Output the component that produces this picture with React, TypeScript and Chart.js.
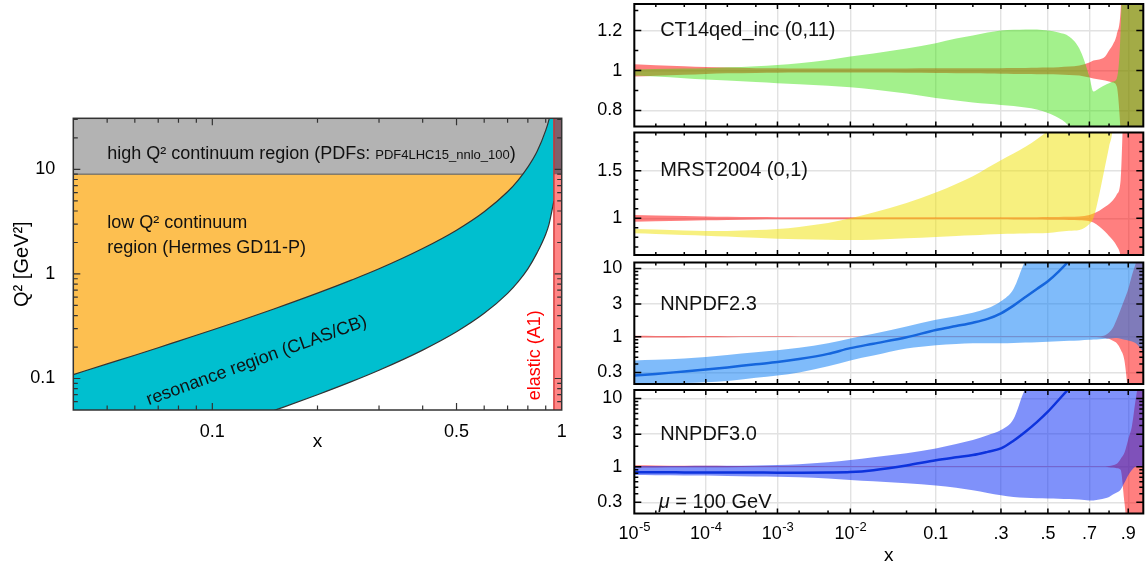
import React, { useEffect, useRef } from 'react';
import { Chart, Scale, registerables } from 'chart.js';

Chart.register(...registerables);

const FONT = "'Liberation Sans', Arial, Helvetica, sans-serif";
Chart.defaults.font.family = FONT;
Chart.defaults.color = '#000';

// ---------------- left panel data ----------------
const LX_MIN = 0.04;
const LX_MAX = 1;
const LQ_MIN = 0.05;
const LQ_MAX = 30.8;
const Q2_CUT = 9;
const W_UP_X = [0.04, 0.05, 0.06, 0.07, 0.08, 0.1, 0.12, 0.15, 0.2, 0.25, 0.3, 0.4, 0.5, 0.6, 0.7, 0.75, 0.8, 0.85, 0.9, 0.92, 0.95];
const W_UP_Q2 = [0.109, 0.138, 0.167, 0.197, 0.228, 0.291, 0.357, 0.462, 0.655, 0.873, 1.12, 1.75, 2.62, 3.93, 6.11, 7.86, 10.5, 14.8, 23.6, 30.1, 49.8];
const W_LO_X = [0.15, 0.16, 0.2, 0.25, 0.3, 0.4, 0.5, 0.6, 0.7, 0.75, 0.8, 0.85, 0.9, 0.92, 0.95];
const W_LO_Q2 = [0.0494, 0.0533, 0.07, 0.0933, 0.12, 0.187, 0.28, 0.42, 0.653, 0.84, 1.12, 1.59, 2.4, 3.0, 5.0];
const ELASTIC_X = [0.95, 1];
const LEFT_X_TICKS = [0.1, 0.5, 1];
const LEFT_X_LABELS = ['0.1', '0.5', '1'];
const LEFT_X_MINOR = [0.05, 0.06, 0.07, 0.08, 0.09, 0.2, 0.3, 0.4, 0.6, 0.7, 0.8, 0.9];
const LEFT_Y_TICKS = [0.1, 1, 10];
const LEFT_Y_LABELS = ['0.1', '1', '10'];
const LEFT_Y_MINOR = [0.06, 0.07, 0.08, 0.09, 0.2, 0.3, 0.4, 0.5, 0.6, 0.7, 0.8, 0.9, 2, 3, 4, 5, 6, 7, 8, 9, 20, 30];

// ---------------- right panels data ----------------
const X_MIN = 1e-5;
const X_MAX = 0.98;
const XS = [1e-5, 2e-5, 5e-5, 1e-4, 2e-4, 5e-4, 1e-3, 2e-3, 5e-3, 0.01, 0.02, 0.05, 0.1, 0.15, 0.2, 0.25, 0.3, 0.35, 0.4, 0.45, 0.5, 0.55, 0.6, 0.65, 0.7, 0.72, 0.75, 0.78, 0.8, 0.82, 0.84, 0.86, 0.88, 0.9, 0.92, 0.94, 0.96, 0.98];
const X_MAJOR = [1e-5, 1e-4, 1e-3, 1e-2, 0.1, 0.3, 0.5, 0.7, 0.9];
const X_LABEL_BASE = ['10', '10', '10', '10', '0.1', '.3', '.5', '.7', '.9'];
const X_LABEL_EXP = ['-5', '-4', '-3', '-2', '', '', '', '', ''];
const X_MINOR = [2e-5, 5e-5, 2e-4, 5e-4, 2e-3, 5e-3, 0.02, 0.05, 0.2, 0.4, 0.6, 0.8];

// CT14qed_inc (0,11)
const CT_UP = [1.005, 1.008, 1.01, 1.012, 1.016, 1.022, 1.028, 1.037, 1.053, 1.07, 1.085, 1.11, 1.137, 1.16, 1.175, 1.19, 1.2, 1.204, 1.206, 1.205, 1.2, 1.19, 1.17, 1.11, 0.97, 0.895, 0.912, 0.928, 0.937, 0.945, 0.96, 1.2, 2, 3, 3, 3, 3, 3];
const CT_LO = [0.975, 0.97, 0.962, 0.955, 0.95, 0.943, 0.937, 0.932, 0.924, 0.917, 0.905, 0.885, 0.862, 0.85, 0.84, 0.834, 0.828, 0.822, 0.815, 0.805, 0.787, 0.762, 0.718, 0.6, 0.4, 0.3, 0.2, 0.1, 0, -1, -1, -1, -1, -1, -1, -1, -1, -1];
const CT_RED_UP = [1.032, 1.027, 1.022, 1.018, 1.015, 1.012, 1.011, 1.01, 1.01, 1.01, 1.01, 1.01, 1.011, 1.011, 1.012, 1.012, 1.012, 1.013, 1.013, 1.014, 1.015, 1.017, 1.02, 1.025, 1.04, 1.05, 1.055, 1.07, 1.1, 1.13, 1.18, 1.3, 1.8, 3, 3, 3, 3, 3];
const CT_RED_LO = [0.97, 0.974, 0.979, 0.983, 0.986, 0.988, 0.989, 0.99, 0.99, 0.99, 0.99, 0.989, 0.988, 0.987, 0.986, 0.985, 0.984, 0.983, 0.983, 0.982, 0.981, 0.98, 0.978, 0.975, 0.965, 0.96, 0.955, 0.95, 0.945, 0.94, 0.92, 0.7, 0.3, -1, -1, -1, -1, -1];

// MRST2004 (0,1)
const MR_UP = [0.888, 0.882, 0.873, 0.867, 0.868, 0.876, 0.888, 0.91, 0.95, 1.0, 1.06, 1.16, 1.27, 1.36, 1.44, 1.53, 1.61, 1.68, 1.75, 1.83, 1.92, 2.05, 2.3, 2.6, 3, 3, 3, 3, 3, 3, 3, 3, 3, 3, 3, 3, 3, 3];
const MR_LO = [0.843, 0.836, 0.826, 0.818, 0.808, 0.795, 0.786, 0.779, 0.775, 0.773, 0.775, 0.79, 0.805, 0.815, 0.822, 0.83, 0.836, 0.838, 0.84, 0.842, 0.845, 0.86, 0.87, 0.878, 0.94, 1.0, 1.25, 1.55, 1.75, 2.0, 3, 3, 3, 3, 3, 3, 3, 3];
const MR_RED_UP = [1.035, 1.03, 1.025, 1.02, 1.017, 1.013, 1.011, 1.01, 1.01, 1.01, 1.01, 1.01, 1.01, 1.01, 1.01, 1.01, 1.011, 1.011, 1.012, 1.012, 1.013, 1.014, 1.016, 1.02, 1.035, 1.05, 1.08, 1.12, 1.15, 1.19, 1.25, 1.4, 2.5, 3, 3, 3, 3, 3];
const MR_RED_LO = [0.965, 0.97, 0.975, 0.98, 0.983, 0.987, 0.989, 0.99, 0.99, 0.99, 0.99, 0.99, 0.99, 0.99, 0.99, 0.989, 0.989, 0.988, 0.988, 0.987, 0.986, 0.985, 0.983, 0.98, 0.97, 0.955, 0.915, 0.86, 0.815, 0.77, 0.71, 0.6, 0.2, -1, -1, -1, -1, -1];

// NNPDF2.3
const N23_UP = [0.45, 0.46, 0.48, 0.505, 0.54, 0.59, 0.634, 0.69, 0.8, 0.945, 1.1, 1.41, 1.77, 2.0, 2.25, 2.6, 3.3, 5.0, 13, 20, 30, 40, 50, 50, 50, 50, 50, 50, 50, 50, 50, 50, 50, 50, 50, 50, 50, 50];
const N23_LO = [0.203, 0.206, 0.21, 0.215, 0.225, 0.25, 0.27, 0.3, 0.37, 0.45, 0.53, 0.67, 0.75, 0.78, 0.8, 0.8, 0.8, 0.81, 0.82, 0.83, 0.84, 0.855, 0.87, 0.88, 0.9, 0.91, 0.92, 0.93, 0.94, 0.95, 0.96, 0.93, 0.9, 0.88, 0.85, 0.8, 0.7, 0.6];
const N23_C = [0.27, 0.285, 0.31, 0.33, 0.355, 0.395, 0.425, 0.47, 0.56, 0.68, 0.79, 0.98, 1.25, 1.43, 1.6, 1.82, 2.2, 2.85, 3.8, 5, 6.5, 9, 13, 20, 30, 40, 50, 50, 50, 50, 50, 50, 50, 50, 50, 50, 50, 50];
const N23_RED_UP = [1.03, 1.027, 1.023, 1.02, 1.016, 1.013, 1.012, 1.011, 1.01, 1.01, 1.01, 1.01, 1.01, 1.01, 1.01, 1.01, 1.01, 1.01, 1.01, 1.01, 1.01, 1.01, 1.01, 1.01, 1.01, 1.012, 1.015, 1.05, 1.15, 1.35, 1.8, 2.5, 3.5, 5, 8, 12, 20, 30];
const N23_RED_LO = [0.97, 0.973, 0.977, 0.98, 0.984, 0.987, 0.988, 0.989, 0.99, 0.99, 0.99, 0.99, 0.99, 0.99, 0.99, 0.99, 0.99, 0.99, 0.99, 0.99, 0.99, 0.99, 0.99, 0.99, 0.99, 0.988, 0.985, 0.96, 0.93, 0.87, 0.8, 0.65, 0.45, 0.15, 0.05, 0.05, 0.05, 0.05];

// NNPDF3.0
const N30_UP = [1.02, 1.02, 1.025, 1.03, 1.035, 1.045, 1.06, 1.09, 1.16, 1.25, 1.37, 1.57, 1.85, 2.15, 2.46, 2.9, 3.44, 5, 14, 20, 30, 40, 50, 50, 50, 50, 50, 50, 50, 50, 50, 50, 50, 50, 50, 50, 50, 50];
const N30_LO = [0.755, 0.75, 0.745, 0.74, 0.73, 0.72, 0.714, 0.7, 0.67, 0.64, 0.61, 0.57, 0.53, 0.49, 0.45, 0.41, 0.38, 0.36, 0.35, 0.345, 0.343, 0.34, 0.335, 0.33, 0.32, 0.32, 0.33, 0.345, 0.36, 0.39, 0.42, 0.46, 0.58, 0.75, 0.9, 1.0, 1.0, 1.0];
const N30_C = [0.826, 0.826, 0.825, 0.824, 0.822, 0.82, 0.818, 0.818, 0.822, 0.835, 0.89, 1.04, 1.24, 1.37, 1.48, 1.65, 1.85, 2.4, 3.25, 4.5, 6.4, 9.5, 14, 20, 30, 40, 50, 50, 50, 50, 50, 50, 50, 50, 50, 50, 50, 50];
const N30_RED_UP = [1.05, 1.045, 1.035, 1.03, 1.022, 1.017, 1.015, 1.012, 1.01, 1.01, 1.01, 1.01, 1.01, 1.01, 1.01, 1.01, 1.01, 1.01, 1.01, 1.01, 1.01, 1.01, 1.01, 1.01, 1.01, 1.01, 1.01, 1.01, 1.02, 1.05, 1.1, 1.3, 1.6, 2.5, 4, 10, 20, 30];
const N30_RED_LO = [0.97, 0.972, 0.977, 0.98, 0.984, 0.987, 0.99, 0.99, 0.99, 0.99, 0.99, 0.99, 0.99, 0.99, 0.99, 0.99, 0.99, 0.99, 0.99, 0.99, 0.99, 0.99, 0.99, 0.99, 0.99, 0.99, 0.99, 0.99, 0.98, 0.97, 0.95, 0.9, 0.3, 0.1, 0.1, 0.1, 0.1, 0.1];

// ---------------- custom x scale: ln(x) + 5x ----------------
const warp = (x: number) => Math.log(x) + 5 * x;

class WarpXScale extends Scale {
  static id = 'warpx';
  static defaults = {};
  determineDataLimits() {
    const o: any = this.options;
    this.min = o.min;
    this.max = o.max;
  }
  buildTicks() {
    return [];
  }
  getLabelForValue(v: number) {
    return String(v);
  }
  configure() {
    super.configure();
    (this as any)._w0 = warp(this.min);
    (this as any)._w1 = warp(this.max);
  }
  getPixelForValue(v: number) {
    const s: any = this;
    if (v == null || isNaN(v) || v <= 0) return NaN;
    return this.getPixelForDecimal((warp(v) - s._w0) / (s._w1 - s._w0));
  }
  getValueForPixel(p: number) {
    const s: any = this;
    const w = s._w0 + this.getDecimalForPixel(p) * (s._w1 - s._w0);
    let lo = 1e-9, hi = 2;
    for (let i = 0; i < 80; i++) {
      const m = (lo + hi) / 2;
      if (warp(m) < w) lo = m; else hi = m;
    }
    return (lo + hi) / 2;
  }
}
Chart.register(WarpXScale as any);

// ---------------- helpers ----------------
const pts = (xs: number[], ys: number[]) => xs.map((x, i) => ({ x, y: ys[i] }));
const f = (size: number, style = '') => `${style} ${size}px ${FONT}`.trim();

function framePlugin(cfg: any) {
  return {
    id: 'frameTicks',
    afterDraw(chart: any) {
      const { ctx, chartArea: a } = chart;
      const xs = chart.scales.x, ys = chart.scales.y;
      ctx.save();
      ctx.strokeStyle = cfg.color;
      ctx.lineWidth = cfg.tickWidth;
      ctx.beginPath();
      const vx = (vals: number[], len: number) => vals.forEach((v) => {
        const p = xs.getPixelForValue(v);
        if (!(p > a.left + 1 && p < a.right - 1)) return;
        ctx.moveTo(p, a.bottom); ctx.lineTo(p, a.bottom - len);
        ctx.moveTo(p, a.top); ctx.lineTo(p, a.top + len);
      });
      const vy = (vals: number[], len: number) => vals.forEach((v) => {
        const p = ys.getPixelForValue(v);
        if (!(p > a.top + 1 && p < a.bottom - 1)) return;
        ctx.moveTo(a.left, p); ctx.lineTo(a.left + len, p);
        ctx.moveTo(a.right, p); ctx.lineTo(a.right - len, p);
      });
      vx(cfg.xMajor, cfg.xMajorLen);
      vx(cfg.xMinor, cfg.xMinorLen);
      vy(cfg.yMajor, cfg.yMajorLen);
      vy(cfg.yMinor, cfg.yMinorLen);
      ctx.stroke();
      ctx.lineWidth = cfg.frameWidth;
      ctx.strokeRect(a.left, a.top, a.right - a.left, a.bottom - a.top);
      ctx.restore();
    },
  };
}

// power-of-ten tick labels with a raised exponent (placed like Chart.js places tick labels)
function expLabelPlugin(pad: number, size: number) {
  return {
    id: 'expLabels',
    afterDraw(chart: any) {
      const ctx = chart.ctx;
      const xs = chart.scales.x;
      const y = xs.top + pad + (size * 1.2) / 2;
      ctx.save();
      ctx.fillStyle = '#000';
      ctx.textBaseline = 'middle';
      ctx.textAlign = 'left';
      X_MAJOR.forEach((v, i) => {
        const e = X_LABEL_EXP[i];
        if (!e) return;
        const base = X_LABEL_BASE[i];
        ctx.font = f(size);
        const wb = ctx.measureText(base).width;
        ctx.font = f(13);
        const we = ctx.measureText(e).width;
        const x0 = xs.getPixelForValue(v) - (wb + we) / 2;
        ctx.font = f(size);
        ctx.fillText(base, x0, y);
        ctx.font = f(13);
        ctx.fillText(e, x0 + wb + 0.5, y - 7);
      });
      ctx.restore();
    },
  };
}

function textPlugin(items: any[]) {
  return {
    id: 'texts',
    afterDatasetsDraw(chart: any) {
      const ctx = chart.ctx;
      const xs = chart.scales.x, ys = chart.scales.y;
      for (const it of items) {
        const px = xs.getPixelForValue(it.x), py = ys.getPixelForValue(it.y);
        ctx.save();
        ctx.translate(px, py);
        if (it.rot) ctx.rotate((it.rot * Math.PI) / 180);
        ctx.fillStyle = it.color || '#111';
        ctx.textBaseline = it.baseline || 'alphabetic';
        ctx.textAlign = 'left';
        let cx = 0;
        for (const p of it.parts) {
          ctx.font = p.font;
          ctx.fillText(p.t, cx, p.dy || 0);
          cx += ctx.measureText(p.t).width;
        }
        ctx.restore();
      }
    },
  };
}

// ---------------- left chart ----------------
const GRAY = '#b3b3b3';
const ORANGE = '#fdbf50';
const CYAN = '#00bfcf';

function leftConfig(): any {
  const cut = pts([LX_MIN, LX_MAX], [Q2_CUT, Q2_CUT]);
  const elTop = pts(ELASTIC_X, [LQ_MAX, LQ_MAX]);
  const line = { borderWidth: 0, pointRadius: 0, cubicInterpolationMode: 'monotone' };
  return {
    type: 'line',
    data: {
      datasets: [
        { ...line, data: pts([ELASTIC_X[0], ELASTIC_X[0]], [LQ_MIN, LQ_MAX]), borderColor: '#d42a2a', borderWidth: 1.3, fill: false },
        { ...line, data: elTop, backgroundColor: '#80606a', fill: { value: Q2_CUT } },
        { ...line, data: elTop, backgroundColor: '#ff8585', fill: 'start' },
        { ...line, data: pts(W_LO_X, W_LO_Q2), backgroundColor: '#ffffff', borderColor: '#333', borderWidth: 1.2, fill: 'start' },
        { ...line, data: pts(W_UP_X, W_UP_Q2), backgroundColor: CYAN, borderColor: '#333', borderWidth: 1.2, fill: 'start' },
        { ...line, data: cut, backgroundColor: GRAY, borderColor: '#555', borderWidth: 1, fill: 'end' },
        { ...line, data: cut, backgroundColor: ORANGE, fill: 'start' },
      ],
    },
    options: {
      responsive: false,
      animation: false,
      events: [],
      layout: { padding: { left: 0, right: 18.3, top: 18.3, bottom: 0 } },
      plugins: { legend: { display: false }, tooltip: { enabled: false } },
      elements: { point: { radius: 0 } },
      scales: {
        x: {
          type: 'logarithmic', min: LX_MIN, max: LX_MAX,
          afterBuildTicks: (s: any) => { s.ticks = LEFT_X_TICKS.map((v) => ({ value: v })); },
          afterFit: (s: any) => { s.height = 50; s.paddingLeft = 0; s.paddingRight = 0; },
          grid: { display: false, drawTicks: false },
          border: { display: false },
          ticks: { autoSkip: false, maxRotation: 0, padding: 11, font: { size: 18 }, color: '#000',
            callback: (v: number) => { const i = LEFT_X_TICKS.indexOf(v); return i >= 0 ? LEFT_X_LABELS[i] : ''; } },
          title: { display: true, text: 'x', font: { size: 19 }, color: '#000', padding: { top: 0, bottom: 7 } },
        },
        y: {
          type: 'logarithmic', min: LQ_MIN, max: LQ_MAX,
          afterBuildTicks: (s: any) => { s.ticks = LEFT_Y_TICKS.map((v) => ({ value: v })); },
          afterFit: (s: any) => { s.width = 73.3; s.paddingTop = 0; s.paddingBottom = 0; },
          grid: { display: false, drawTicks: false },
          border: { display: false },
          ticks: { autoSkip: false, padding: 18, font: { size: 18 }, color: '#000',
            callback: (v: number) => { const i = LEFT_Y_TICKS.indexOf(v); return i >= 0 ? LEFT_Y_LABELS[i] : ''; } },
          title: { display: true, text: 'Q² [GeV²]', font: { size: 20 }, color: '#000', padding: { top: 10, bottom: 0 } },
        },
      },
    },
    plugins: [
      textPlugin([
        { x: 0.05, y: 12.7, parts: [{ t: 'high Q² continuum region (PDFs: ', font: f(18) }, { t: 'PDF4LHC15_nnlo_100', font: f(13) }, { t: ')', font: f(18) }] },
        { x: 0.05, y: 2.74, parts: [{ t: 'low Q² continuum', font: f(18) }] },
        { x: 0.05, y: 1.58, parts: [{ t: 'region (Hermes GD11-P)', font: f(18) }] },
        { x: 0.0658, y: 0.0555, rot: -20, parts: [{ t: 'resonance region (CLAS/CB)', font: f(18) }] },
        { x: 0.864, y: 0.062, rot: -90, color: '#ff0000', parts: [{ t: 'elastic (A1)', font: f(18) }] },
      ]),
      framePlugin({ color: '#333', tickWidth: 1.2, frameWidth: 1.5, xMajor: LEFT_X_TICKS, xMinor: LEFT_X_MINOR, yMajor: LEFT_Y_TICKS, yMinor: LEFT_Y_MINOR, xMajorLen: 7, xMinorLen: 4.5, yMajorLen: 7, yMinorLen: 4.5 }),
    ],
  };
}

// ---------------- right panels ----------------
const GRID = '#e2e2e2';
const RED = 'rgba(255,0,0,0.5)';
const XT_PAD = 10;

function panelConfig(p: any): any {
  const line = { borderWidth: 0, pointRadius: 0, cubicInterpolationMode: 'monotone' };
  const datasets: any[] = [];
  if (p.center) datasets.push({ ...line, data: pts(XS, p.center), borderColor: p.lineColor, borderWidth: 2.5, fill: false });
  datasets.push({ ...line, data: pts(XS, p.up), backgroundColor: p.color, fill: '+1' });
  datasets.push({ ...line, data: pts(XS, p.lo), fill: false });
  datasets.push({ ...line, data: pts(XS, p.redUp), backgroundColor: RED, fill: '+1' });
  datasets.push({ ...line, data: pts(XS, p.redLo), fill: false });
  const plugins: any[] = [
    textPlugin(p.texts),
    framePlugin({ color: '#000', tickWidth: 1.5, frameWidth: 2, xMajor: X_MAJOR, xMinor: X_MINOR, yMajor: p.yTicks, yMinor: p.yMinor, xMajorLen: 5, xMinorLen: 3, yMajorLen: 7, yMinorLen: 4 }),
  ];
  if (p.bottom) plugins.push(expLabelPlugin(XT_PAD, 18));
  return {
    type: 'line',
    data: { datasets },
    options: {
      responsive: false,
      animation: false,
      events: [],
      layout: { padding: { left: 0, right: 1.7, top: p.padTop, bottom: p.padBottom } },
      plugins: { legend: { display: false }, tooltip: { enabled: false } },
      elements: { point: { radius: 0 } },
      scales: {
        x: {
          type: 'warpx', min: X_MIN, max: X_MAX,
          afterBuildTicks: (s: any) => { s.ticks = X_MAJOR.map((v) => ({ value: v })); },
          afterFit: (s: any) => { s.height = p.xHeight; s.paddingLeft = 0; s.paddingRight = 0; },
          grid: { color: GRID, lineWidth: 1.4, drawTicks: false },
          border: { display: false },
          ticks: { display: p.bottom, autoSkip: false, maxRotation: 0, padding: XT_PAD, font: { size: 18 }, color: '#000',
            callback: (v: number) => { const i = X_MAJOR.indexOf(v); return i >= 0 && !X_LABEL_EXP[i] ? X_LABEL_BASE[i] : ''; } },
          title: { display: p.bottom, text: 'x', font: { size: 19 }, color: '#000', padding: { top: 0, bottom: 1 } },
        },
        y: {
          type: p.yType, min: p.yMin, max: p.yMax,
          afterBuildTicks: (s: any) => { s.ticks = p.yTicks.map((v: number) => ({ value: v })); },
          afterFit: (s: any) => { s.width = 54.3; s.paddingTop = 0; s.paddingBottom = 0; },
          grid: { color: GRID, lineWidth: 1.4, drawTicks: false },
          border: { display: false },
          ticks: { autoSkip: false, padding: 12, font: { size: 18 }, color: '#000',
            callback: (v: number) => { const i = p.yTicks.indexOf(v); return i >= 0 ? p.yLabels[i] : ''; } },
        },
      },
    },
    plugins,
  };
}

const LOG_MINOR = [0.4, 0.5, 0.6, 0.7, 0.8, 0.9, 2, 4, 5, 6, 7, 8, 9];

const PANELS: any[] = [
  {
    top: 0, height: 128, padTop: 4, padBottom: 1.5, xHeight: 0, bottom: false,
    yType: 'linear', yMin: 0.72, yMax: 1.333, yTicks: [0.8, 1, 1.2], yLabels: ['0.8', '1', '1.2'], yMinor: [0.9, 1.1, 1.3],
    up: CT_UP, lo: CT_LO, color: 'rgba(50,225,0,0.45)', redUp: CT_RED_UP, redLo: CT_RED_LO,
    texts: [{ x: 2.3e-5, y: 1.2, baseline: 'middle', parts: [{ t: 'CT14qed_inc (0,11)', font: f(20) }] }],
  },
  {
    top: 128, height: 129, padTop: 4.5, padBottom: 2, xHeight: 0, bottom: false,
    yType: 'linear', yMin: 0.615, yMax: 1.9, yTicks: [1, 1.5], yLabels: ['1', '1.5'], yMinor: [0.7, 0.8, 0.9, 1.1, 1.2, 1.3, 1.4, 1.6, 1.7, 1.8],
    up: MR_UP, lo: MR_LO, color: 'rgba(240,225,0,0.5)', redUp: MR_RED_UP, redLo: MR_RED_LO,
    texts: [{ x: 2.3e-5, y: 1.5, baseline: 'middle', parts: [{ t: 'MRST2004 (0,1)', font: f(20) }] }],
  },
  {
    top: 257, height: 129, padTop: 5.5, padBottom: 2, xHeight: 0, bottom: false,
    yType: 'logarithmic', yMin: 0.203, yMax: 12.2, yTicks: [0.3, 1, 3, 10], yLabels: ['0.3', '1', '3', '10'], yMinor: LOG_MINOR,
    up: N23_UP, lo: N23_LO, center: N23_C, color: 'rgba(0,120,245,0.5)', lineColor: '#1566dd', redUp: N23_RED_UP, redLo: N23_RED_LO,
    texts: [{ x: 2.3e-5, y: 3, baseline: 'middle', parts: [{ t: 'NNPDF2.3', font: f(20) }] }],
  },
  {
    top: 386, height: 182, padTop: 4, padBottom: 0, xHeight: 54.5, bottom: true,
    yType: 'logarithmic', yMin: 0.206, yMax: 13.3, yTicks: [0.3, 1, 3, 10], yLabels: ['0.3', '1', '3', '10'], yMinor: LOG_MINOR,
    up: N30_UP, lo: N30_LO, center: N30_C, color: 'rgba(0,35,245,0.5)', lineColor: '#0d33dd', redUp: N30_RED_UP, redLo: N30_RED_LO,
    texts: [
      { x: 2.3e-5, y: 3, baseline: 'middle', parts: [{ t: 'NNPDF3.0', font: f(20) }] },
      { x: 2.2e-5, y: 0.3, baseline: 'middle', parts: [{ t: 'μ', font: f(20, 'italic') }, { t: ' = 100 GeV', font: f(20) }] },
    ],
  },
];

function ChartCanvas({ left, top, width, height, make }: any) {
  const ref = useRef<HTMLCanvasElement | null>(null);
  useEffect(() => {
    const chart = new Chart(ref.current as HTMLCanvasElement, make());
    return () => chart.destroy();
  }, []);
  return <canvas ref={ref} width={width} height={height} style={{ position: 'absolute', left, top, width, height }} />;
}

export default function App() {
  return (
    <div style={{ position: 'absolute', left: 0, top: 0, width: 1145, height: 568, background: '#fff', overflow: 'hidden' }}>
      <ChartCanvas left={0} top={100} width={580} height={360} make={leftConfig} />
      {PANELS.map((p, i) => (
        <ChartCanvas key={i} left={580} top={p.top} width={565} height={p.height} make={() => panelConfig(p)} />
      ))}
    </div>
  );
}
